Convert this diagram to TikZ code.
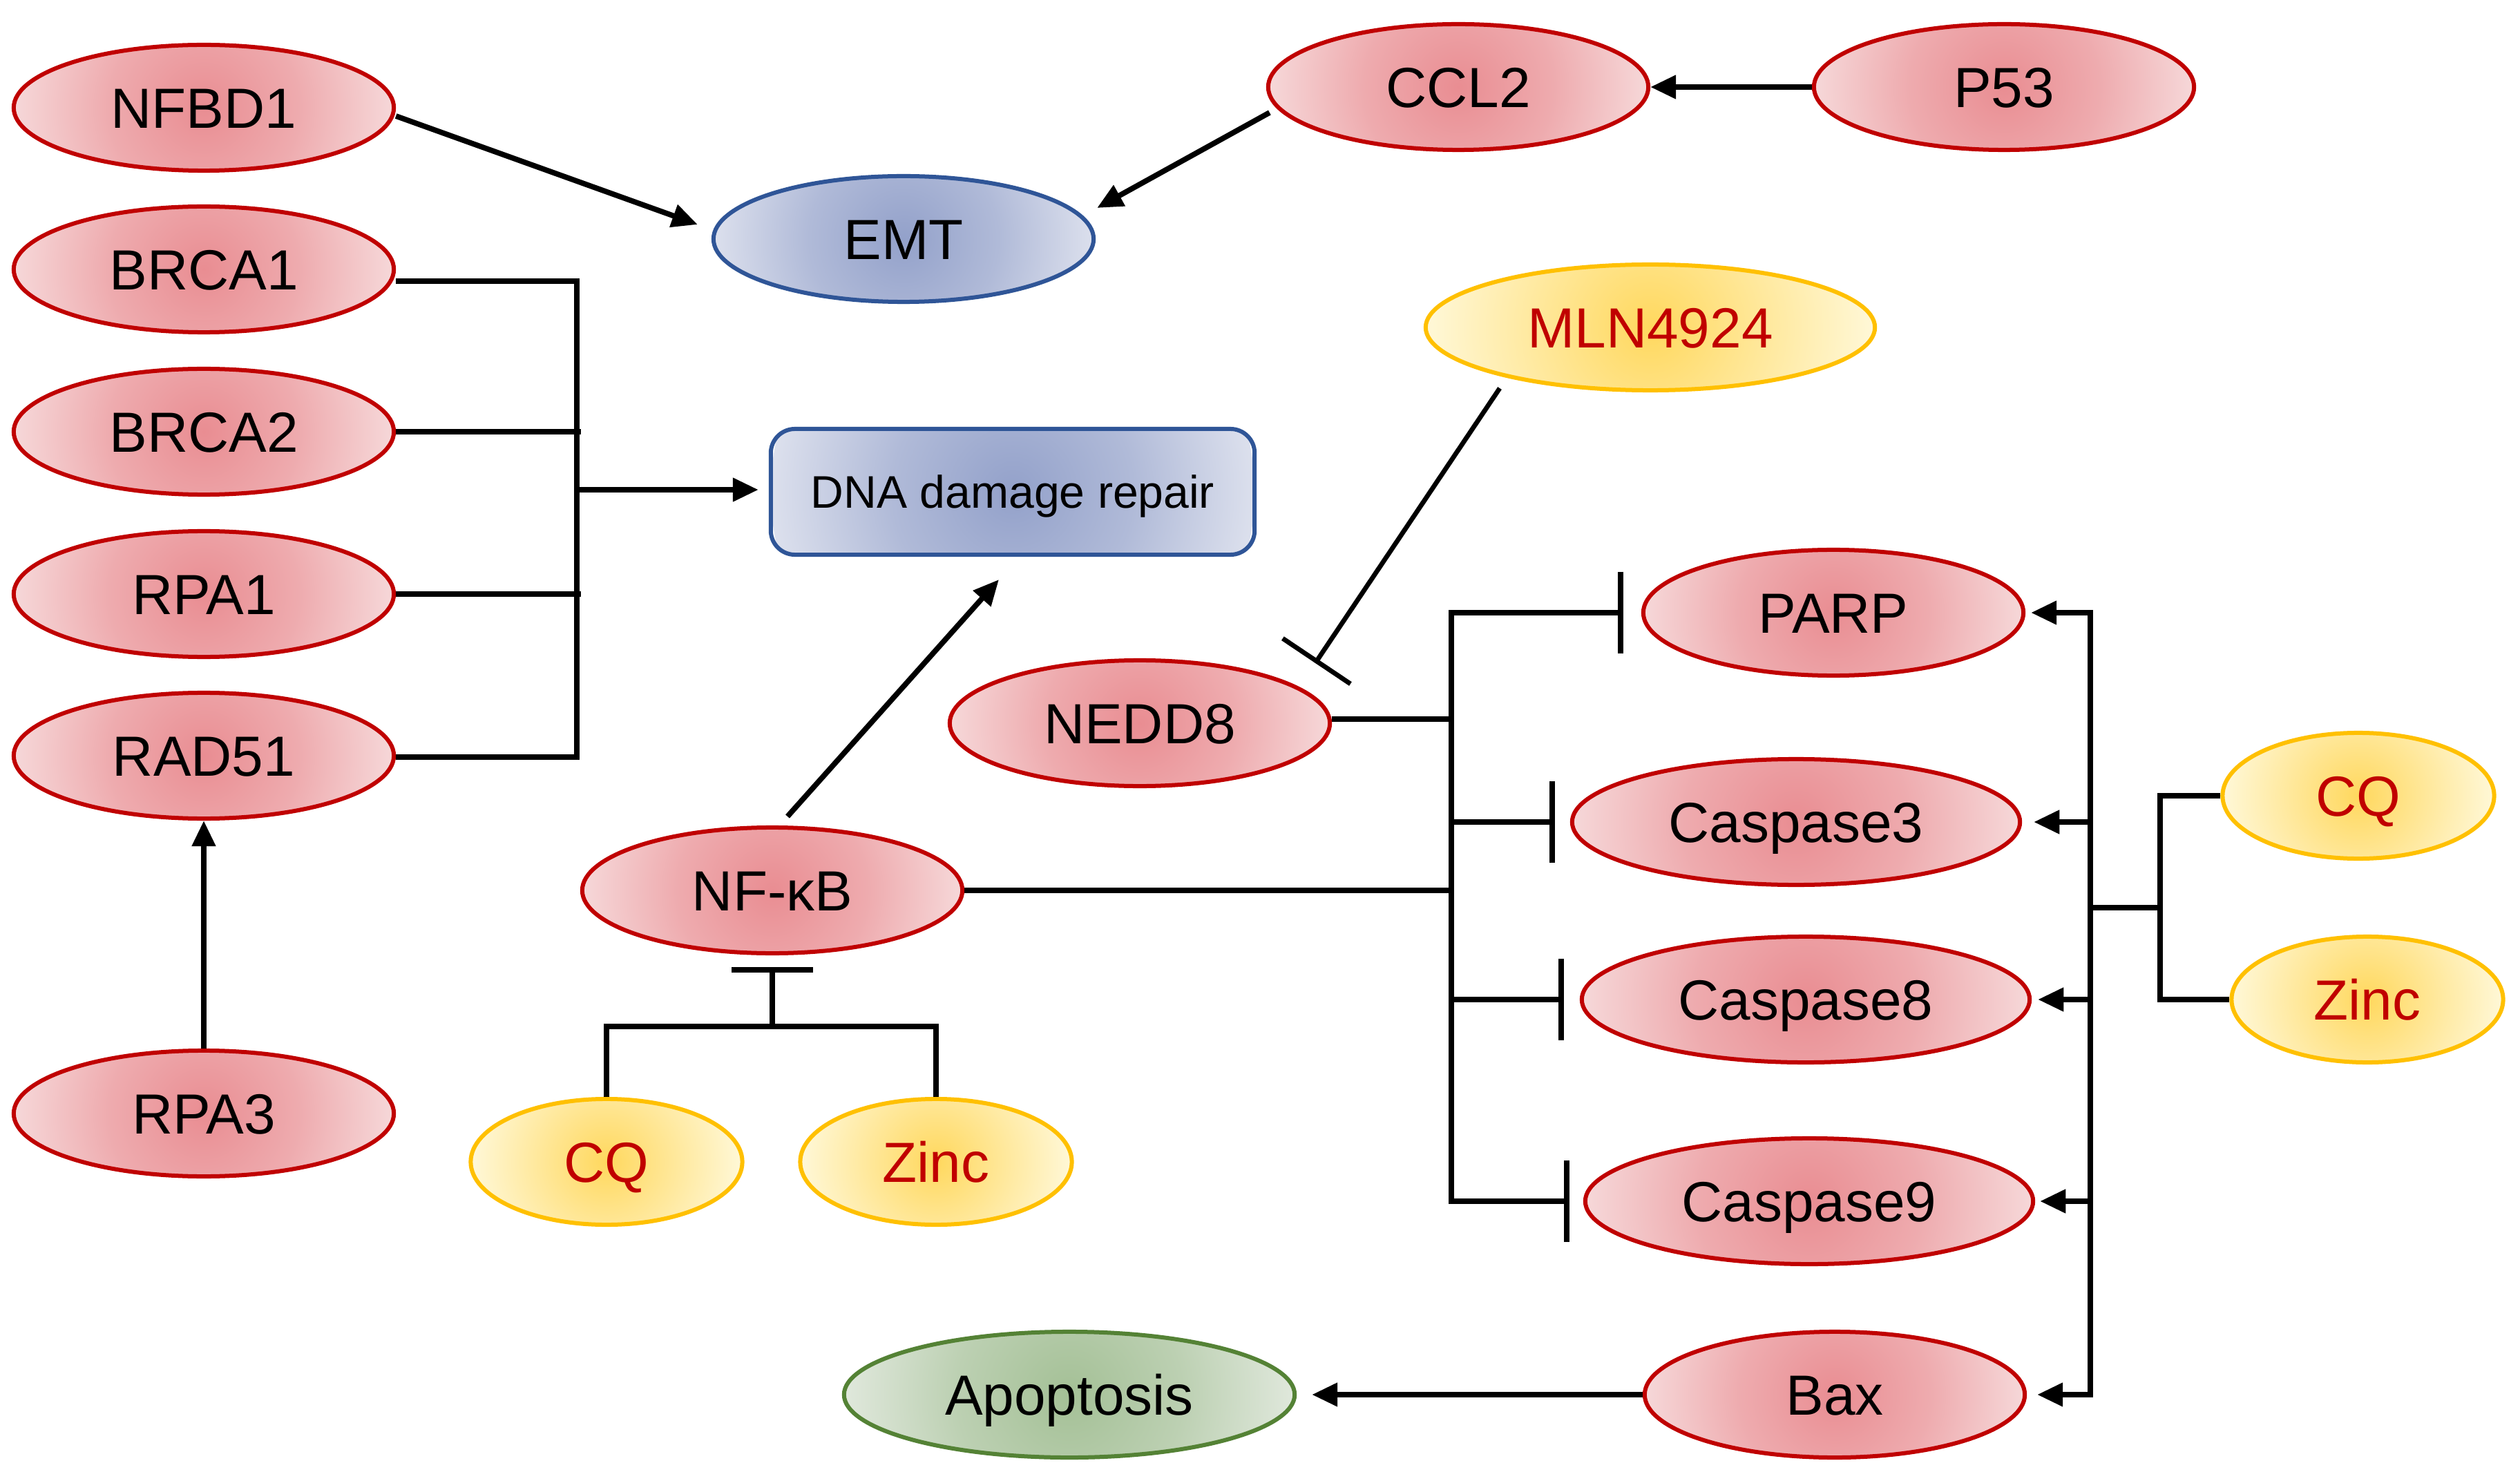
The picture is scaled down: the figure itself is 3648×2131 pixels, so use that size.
\documentclass[tikz,border=0pt]{standalone}
\usepackage{fontspec}
\setmainfont{Liberation Sans}
\usetikzlibrary{shapes.geometric,arrows.meta,calc}
\definecolor{redline}{HTML}{C00000}
\definecolor{redin}{HTML}{E98D92}
\definecolor{redout}{HTML}{F6D8D9}
\colorlet{redmid}{redin!60!redout}
\definecolor{blueline}{HTML}{2F5597}
\definecolor{bluein}{HTML}{93A1CA}
\definecolor{blueout}{HTML}{DCE0ED}
\colorlet{bluemid}{bluein!60!blueout}
\definecolor{yelline}{HTML}{FFC000}
\definecolor{yelin}{HTML}{FFD85E}
\definecolor{yelout}{HTML}{FFF8D8}
\colorlet{yelmid}{yelin!50!yelout}
\definecolor{grnline}{HTML}{548235}
\definecolor{grnin}{HTML}{A4C096}
\definecolor{grnout}{HTML}{E0E8DC}
\colorlet{grnmid}{grnin!60!grnout}
\pgfdeclareradialshading{redsh}{\pgfpointorigin}{color(0bp)=(redin); color(12.5bp)=(redmid); color(25bp)=(redout); color(50bp)=(redout)}
\pgfdeclareradialshading{bluesh}{\pgfpointorigin}{color(0bp)=(bluein); color(12.5bp)=(bluemid); color(25bp)=(blueout); color(50bp)=(blueout)}
\pgfdeclareradialshading{yelsh}{\pgfpointorigin}{color(0bp)=(yelin); color(12.5bp)=(yelmid); color(25bp)=(yelout); color(50bp)=(yelout)}
\pgfdeclareradialshading{grnsh}{\pgfpointorigin}{color(0bp)=(grnin); color(12.5bp)=(grnmid); color(25bp)=(grnout); color(50bp)=(grnout)}
\tikzset{
  glow/.style 2 args={path picture={\shade[shading=#1] (path picture bounding box.center) circle[radius=#2];}},
  base/.style={ellipse, inner sep=0pt, minimum height=1.82cm, line width=0.06cm,
    font=\fontsize{23.3}{28}\selectfont, text height=0.59cm, text depth=0pt},
  rednode/.style={base, draw=redline, glow={redsh}{2.75cm}, minimum width=5.5cm},
  casnode/.style={base, draw=redline, glow={redsh}{3.24cm}, minimum width=6.48cm},
  yelnode/.style={base, draw=yelline, glow={yelsh}{1.97cm}, text=redline, minimum width=3.93cm},
  mlnnode/.style={base, draw=yelline, glow={yelsh}{3.25cm}, text=redline, minimum width=6.5cm},
  bluenode/.style={base, draw=blueline, glow={bluesh}{2.75cm}, minimum width=5.5cm},
  grnnode/.style={base, draw=grnline, glow={grnsh}{3.26cm}, minimum width=6.52cm},
  boxnode/.style={rectangle, rounded corners=0.35cm, draw=blueline, line width=0.06cm,
    glow={bluesh}{3.5cm}, minimum width=7.0cm, minimum height=1.82cm,
    font=\fontsize{18.8}{22}\selectfont, text height=0.47cm, text depth=0pt},
  ln/.style={line width=0.078cm, line cap=butt},
  arr/.style={ln, -{Triangle[length=0.37cm,width=0.33cm]}},
  inh/.style={ln, -{Bar[width=1.18cm]}}
}
\begin{document}
\begin{tikzpicture}[x=0.01cm,y=-0.01cm]
\fill[white] (0,0) rectangle (3648,2131);
\useasboundingbox (0,0) rectangle (3648,2131);

% nodes
\node[rednode] (nfbd1) at (295,156) {NFBD1};
\node[rednode] (brca1) at (295,390) {BRCA1};
\node[rednode] (brca2) at (295,625) {BRCA2};
\node[rednode] (rpa1) at (295,860) {RPA1};
\node[rednode] (rad51) at (295,1094) {RAD51};
\node[rednode] (rpa3) at (295,1612) {RPA3};
\node[rednode] (ccl2) at (2111,126) {CCL2};
\node[rednode] (p53) at (2901,126) {P53};
\node[bluenode] (emt) at (1308,346) {EMT};
\node[boxnode] (dna) at (1466,712) {DNA damage repair};
\node[mlnnode] (mln) at (2389,474) {MLN4924};
\node[rednode] (nedd8) at (1650,1047) {NEDD8};
\node[rednode] (nfkb) at (1118,1289) {NF-κB};
\node[yelnode] (cq1) at (878,1682) {CQ};
\node[yelnode] (zinc1) at (1355,1682) {Zinc};
\node[rednode] (parp) at (2654,887) {PARP};
\node[casnode] (cas3) at (2600,1190) {Caspase3};
\node[casnode] (cas8) at (2614,1447) {Caspase8};
\node[casnode] (cas9) at (2619,1739) {Caspase9};
\node[rednode] (bax) at (2656,2019) {Bax};
\node[yelnode] (cq2) at (3414,1152) {CQ};
\node[yelnode] (zinc2) at (3427,1447) {Zinc};
\node[grnnode] (apop) at (1548,2019) {Apoptosis};

% EMT inputs
\draw[arr] ($(nfbd1.east)+(0,12)$) -- ($(emt.west)+(-20,-21)$);
\draw[arr] ($(ccl2.west)+(5,37)$) -- ($(emt.east)+(2,-45)$);
\draw[arr] (p53.west) -- (ccl2.east);

% DNA damage repair bracket
\coordinate (bj) at (835,709);
\draw[ln] ($(brca1.east)+(0,17)$) -| (bj);
\draw[ln] ($(rad51.east)+(0,2)$) -| (bj);
\draw[ln] (brca2.east) -- ($(brca2.east -| bj)+(6,0)$);
\draw[ln] (rpa1.east) -- ($(rpa1.east -| bj)+(6,0)$);
\draw[arr, shorten >=0.15cm] (bj) -- (bj -| dna.west);
\draw[arr] (rpa3.north) -- (rad51.south);
\draw[arr] ($(nfkb.north)+(22,-13)$) -- ($(dna.south)+(-20,33)$);

% NF-kB inhibition by CQ / Zinc
\coordinate (nj) at (1118,1486);
\draw[ln] (cq1.north) |- (nj) -| (zinc1.north);
\draw[inh] (nj) -- ($(nfkb.south)+(0,17)$);

% MLN4924 inhibits NEDD8
\draw[inh, line width=0.068cm] ($(mln.south)+(-218,-6)$) -- ($(nedd8.north)+(254,7)$);

% left branch (inhibitions)
\coordinate (lv) at (2101,0);
\draw[inh, shorten >=0.26cm] (cas9.west -| lv) |- (parp.west);
\draw[inh, shorten >=0.2cm] ($(cas9.west -| lv)+(-3.9,0)$) -- (cas9.west);
\draw[inh, shorten >=0.22cm] (cas3.west -| lv) -- (cas3.west);
\draw[inh, shorten >=0.23cm] (cas8.west -| lv) -- (cas8.west);
\draw[ln] ($(nedd8.east)+(0,-6)$) -- ($(nedd8.east -| lv)+(0,-6)$);
\draw[ln] (nfkb.east) -- (nfkb.east -| lv);

% right branch (activations)
\coordinate (rv) at (3026,0);
\draw[arr, shorten >=0.08cm] (bax.east -| rv) |- (parp.east);
\draw[arr, shorten >=0.15cm] ($(bax.east -| rv)+(3.9,0)$) -- (bax.east);
\draw[arr, shorten >=0.17cm] (cas3.east -| rv) -- (cas3.east);
\draw[arr, shorten >=0.09cm] (cas8.east -| rv) -- (cas8.east);
\draw[arr, shorten >=0.07cm] (cas9.east -| rv) -- (cas9.east);

% CQ / Zinc feeding right branch
\coordinate (rb) at (3127,1314);
\draw[ln] (cq2.west) -| (rb);
\draw[ln] (zinc2.west) -| (rb);
\draw[ln] (rb) -- (rb -| rv);

% Bax -> Apoptosis
\draw[arr, shorten >=0.22cm] (bax.west) -- (apop.east);
\end{tikzpicture}
\end{document}
